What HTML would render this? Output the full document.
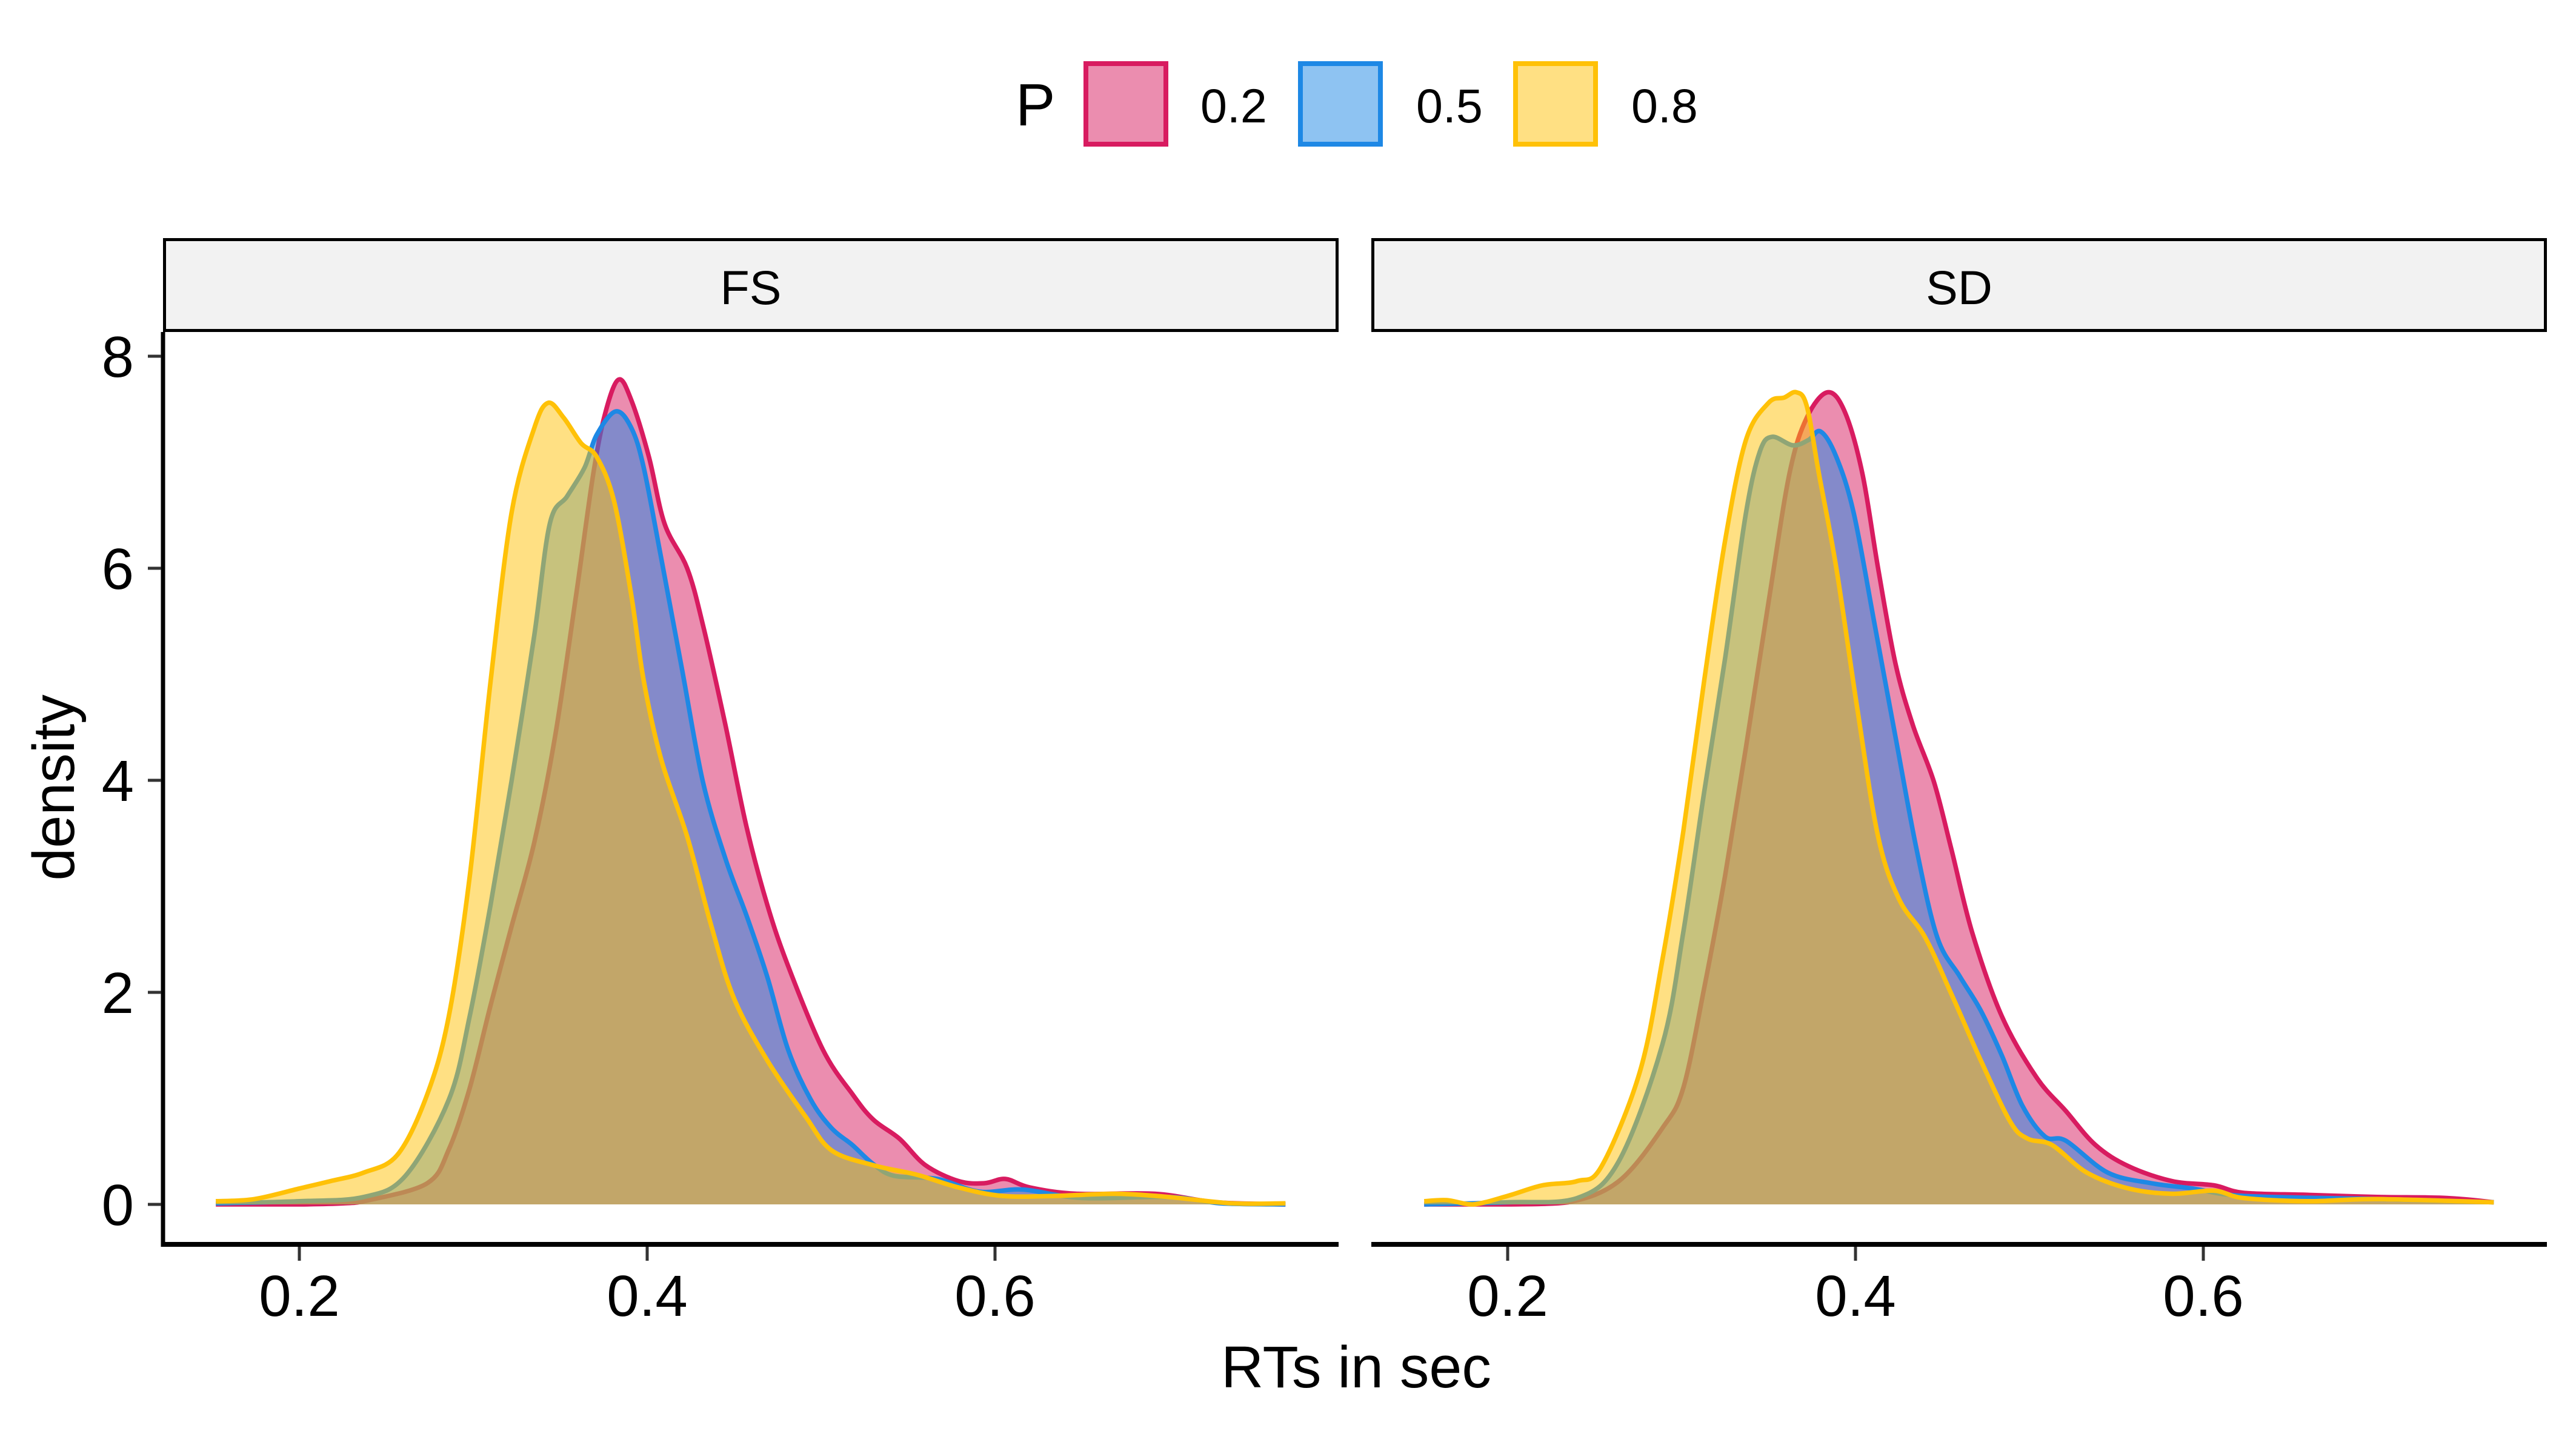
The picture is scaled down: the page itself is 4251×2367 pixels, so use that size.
<!DOCTYPE html>
<html><head><meta charset="utf-8"><style>
html,body{margin:0;padding:0;background:#fff;}
svg text{font-family:"Liberation Sans",Arial,sans-serif;}
</style></head><body>
<svg id="chart" xmlns="http://www.w3.org/2000/svg" width="4251" height="2362" viewBox="0 0 4251 2362">
<rect x="0" y="0" width="4251" height="2362" fill="#fff"/>
<g id="legend">
  <text x="1676" y="207" font-size="98">P</text>
  <rect x="1792" y="105" width="132" height="133" fill="#D81B60" fill-opacity="0.5" stroke="#D81B60" stroke-width="8"/>
  <text x="1981" y="202" font-size="79">0.2</text>
  <rect x="2146" y="105" width="132" height="133" fill="#1E88E5" fill-opacity="0.5" stroke="#1E88E5" stroke-width="8"/>
  <text x="2337" y="202" font-size="79">0.5</text>
  <rect x="2501" y="105" width="132" height="133" fill="#FFC107" fill-opacity="0.5" stroke="#FFC107" stroke-width="8"/>
  <text x="2692" y="202" font-size="79">0.8</text>
</g>
<g id="panels"></g>
<text x="2238" y="2290" font-size="97" text-anchor="middle">RTs in sec</text>
<text x="0" y="0" font-size="97" text-anchor="middle" transform="translate(122,1300) rotate(-90)">density</text>
</svg>
<script>
const panelNames = ["FS", "SD"];
const seriesNames = ["0.2", "0.5", "0.8"];
const seriesColors = ["#D81B60", "#1E88E5", "#FFC107"];
const xTicks = [0.2, 0.4, 0.6];
const yTicks = [0, 2, 4, 6, 8];

// FS panel
const fs02x = [0.152,0.2,0.225,0.24,0.2736,0.286,0.298,0.31,0.322,0.335,0.347,0.359,0.369,0.376,0.3836,0.391,0.401,0.41,0.423,0.432,0.445,0.457,0.469,0.481,0.501,0.518,0.53,0.545,0.56,0.579,0.594,0.606,0.62,0.647,0.692,0.727,0.767];
const fs02y = [0,0,0.01,0.04,0.2,0.52,1.1,1.88,2.62,3.41,4.41,5.73,6.89,7.47,7.78,7.58,7.05,6.42,6.0,5.47,4.52,3.57,2.83,2.25,1.46,1.04,0.8,0.62,0.37,0.22,0.2,0.24,0.16,0.1,0.1,0.02,0];
const fs05x = [0.152,0.2,0.237,0.261,0.286,0.298,0.31,0.322,0.335,0.344,0.354,0.364,0.371,0.382,0.391,0.398,0.408,0.42,0.432,0.445,0.457,0.469,0.481,0.494,0.506,0.518,0.53,0.542,0.567,0.591,0.616,0.65,0.7,0.73,0.767];
const fs05y = [0.01,0.03,0.07,0.27,0.99,1.78,2.83,3.99,5.36,6.42,6.68,6.95,7.26,7.48,7.32,6.95,6.1,5.05,3.99,3.26,2.73,2.15,1.46,0.99,0.72,0.56,0.38,0.27,0.24,0.12,0.14,0.06,0.07,0.01,0];
const fs08x = [0.152,0.174,0.2,0.218,0.237,0.2565,0.2736,0.286,0.298,0.31,0.322,0.335,0.343,0.352,0.362,0.371,0.381,0.391,0.398,0.408,0.423,0.437,0.45,0.469,0.491,0.506,0.53,0.555,0.579,0.604,0.635,0.669,0.7,0.736,0.767];
const fs08y = [0.03,0.05,0.15,0.22,0.3,0.47,1.04,1.78,3.1,4.94,6.52,7.32,7.56,7.42,7.18,7.05,6.63,5.73,4.94,4.2,3.47,2.62,1.94,1.36,0.83,0.51,0.37,0.28,0.16,0.08,0.08,0.1,0.07,0.01,0.01];

// SD panel
const sd02x = [0.152,0.2,0.235,0.264,0.289,0.301,0.313,0.325,0.337,0.35,0.362,0.372,0.384,0.394,0.404,0.413,0.423,0.433,0.445,0.455,0.467,0.484,0.504,0.521,0.538,0.557,0.582,0.606,0.623,0.66,0.7,0.74,0.767];
const sd02y = [0,0,0.02,0.22,0.72,1.1,2.04,3.1,4.31,5.68,6.89,7.42,7.66,7.47,6.89,6.0,5.1,4.52,3.99,3.36,2.57,1.78,1.2,0.88,0.56,0.36,0.22,0.18,0.11,0.09,0.07,0.06,0.02];
const sd05x = [0.152,0.2,0.24,0.264,0.289,0.301,0.313,0.325,0.337,0.345,0.352,0.364,0.373,0.38,0.389,0.399,0.411,0.423,0.435,0.447,0.46,0.472,0.484,0.496,0.509,0.521,0.545,0.57,0.594,0.623,0.7,0.767];
const sd05y = [0,0.02,0.06,0.41,1.51,2.57,3.89,5.15,6.52,7.1,7.24,7.16,7.21,7.29,7.05,6.52,5.47,4.41,3.36,2.52,2.15,1.83,1.41,0.93,0.64,0.6,0.3,0.2,0.15,0.08,0.05,0.02];
const sd08x = [0.152,0.165,0.18,0.2,0.22,0.24,0.254,0.276,0.289,0.301,0.313,0.325,0.337,0.35,0.359,0.366,0.372,0.379,0.389,0.401,0.413,0.425,0.44,0.455,0.472,0.489,0.499,0.513,0.533,0.557,0.582,0.606,0.623,0.66,0.7,0.767];
const sd08y = [0.03,0.04,0.0,0.08,0.18,0.22,0.36,1.25,2.31,3.52,4.94,6.26,7.21,7.56,7.61,7.66,7.53,6.89,6.0,4.68,3.47,2.88,2.52,1.99,1.36,0.78,0.62,0.56,0.3,0.15,0.1,0.13,0.06,0.03,0.05,0.02];

const panelX = [[fs02x, fs05x, fs08x],[sd02x, sd05x, sd08x]];
const panelY = [[fs02y, fs05y, fs08y],[sd02y, sd05y, sd08y]];

const NS = "http://www.w3.org/2000/svg";
const panelLeft = [269, 2263];
const panelW = 1940;
const plotTop = 548, axisY = 2054;
const pxPerX = 2870, x0Off = 225;
function xScale(p, v){ return panelLeft[p] + x0Off + (v - 0.2) * pxPerX; }
function yScale(v){ return 1988 - v * 175; }
function mk(tag, attrs){ const e = document.createElementNS(NS, tag); for (const k in attrs) e.setAttribute(k, attrs[k]); return e; }
function smoothPath(pts){
  let d = "M" + pts[0][0].toFixed(1) + "," + pts[0][1].toFixed(1);
  for (let i = 0; i < pts.length - 1; i++){
    const p0 = pts[Math.max(0,i-1)], p1 = pts[i], p2 = pts[i+1], p3 = pts[Math.min(pts.length-1,i+2)];
    const t = 1/6;
    let c1y = p1[1] + (p2[1]-p0[1])*t, c2y = p2[1] - (p3[1]-p1[1])*t;
    const base = yScale(0);
    c1y = Math.min(c1y, base); c2y = Math.min(c2y, base);
    d += " C" + (p1[0]+(p2[0]-p0[0])*t).toFixed(1) + "," + c1y.toFixed(1) + " " + (p2[0]-(p3[0]-p1[0])*t).toFixed(1) + "," + c2y.toFixed(1) + " " + p2[0].toFixed(1) + "," + p2[1].toFixed(1);
  }
  return d;
}
const root = document.getElementById("panels");
for (let p = 0; p < 2; p++){
  const g = mk("g", {});
  
  
  root.appendChild(g);
  const strip = mk("rect", {x: panelLeft[p] + 2.5, y: 395.5, width: panelW - 5, height: 150, fill: "#F2F2F2", stroke: "#000", "stroke-width": 5});
  
  
  g.appendChild(strip);
  const st = mk("text", {x: panelLeft[p] + panelW/2, y: 502, "font-size": 79, "text-anchor": "middle"});
  st.textContent = panelNames[p];
  
  
  g.appendChild(st);
  for (let s = 0; s < 3; s++){
    const xs = panelX[p][s], ys = panelY[p][s];
    const pts = xs.map((v, i) => [xScale(p, v), yScale(ys[i])]);
    const line = smoothPath(pts);
    const area = mk("path", {d: line + " L" + pts[pts.length-1][0].toFixed(1) + "," + yScale(0) + " L" + pts[0][0].toFixed(1) + "," + yScale(0) + " Z", fill: seriesColors[s], "fill-opacity": 0.5, stroke: "none"});
    
    
    g.appendChild(area);
    const ln = mk("path", {d: line, fill: "none", stroke: seriesColors[s], "stroke-width": 7.5, "stroke-linejoin": "round"});
    
    
    g.appendChild(ln);
  }
  const xa = mk("line", {x1: panelLeft[p], x2: panelLeft[p] + panelW, y1: axisY, y2: axisY, stroke: "#000", "stroke-width": 8});
  
  
  g.appendChild(xa);
  xTicks.forEach(t => {
    const X = xScale(p, t);
    const tk = mk("line", {x1: X, x2: X, y1: axisY + 4, y2: axisY + 27, stroke: "#333", "stroke-width": 5});
    
    
    g.appendChild(tk);
    const tl = mk("text", {x: X, y: 2172, "font-size": 96, "text-anchor": "middle"});
    tl.textContent = t.toFixed(1);
    
    
    g.appendChild(tl);
  });
  if (p === 0){
    const ya = mk("line", {x1: 269, x2: 269, y1: plotTop, y2: axisY + 4, stroke: "#000", "stroke-width": 7});
    
    
    g.appendChild(ya);
    yTicks.forEach(t => {
      const Y = yScale(t);
      const tk = mk("line", {x1: 244, x2: 266, y1: Y, y2: Y, stroke: "#333", "stroke-width": 5});
      
      
      g.appendChild(tk);
      const tl = mk("text", {x: 221, y: Y + 34, "font-size": 96, "text-anchor": "end"});
      tl.textContent = String(t);
      
      
      g.appendChild(tl);
    });
  }
}
</script>
</body></html>
